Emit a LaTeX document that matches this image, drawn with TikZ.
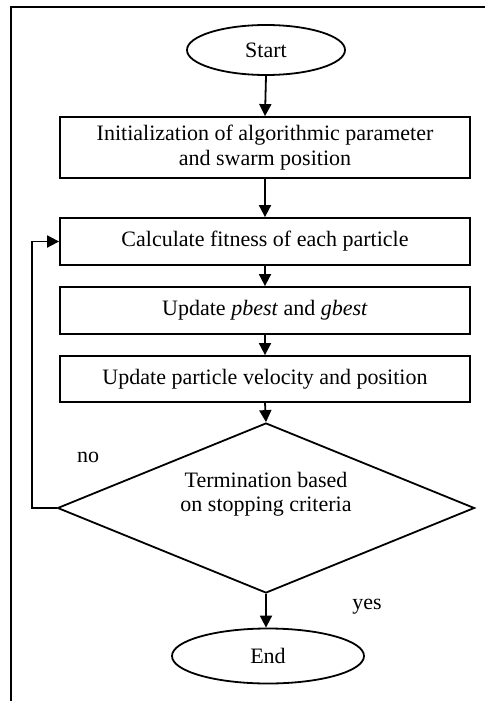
\documentclass[tikz,border=0pt]{standalone}
\usepackage{fontspec}
\setmainfont{Liberation Serif}
\usetikzlibrary{shapes.geometric,arrows.meta}
\begin{document}
\begin{tikzpicture}[x=1pt,y=-1pt,
  line width=1.8pt,
  every node/.style={font=\fontsize{22}{25}\selectfont},
  procbox/.style={draw,rectangle,minimum width=410pt,inner sep=0pt,align=center},
  termnode/.style={draw,ellipse,inner sep=0pt},
  conn/.style={-{Triangle[width=12pt,length=12pt]}},
  lbl/.style={inner sep=0pt}]
\useasboundingbox (0,0) rectangle (485,701);
\draw (11,701) -- (11,7) -- (485,7);
\node[termnode,minimum width=158pt,minimum height=50pt] (start) at (266,50) {Start};
\node[procbox,minimum height=61pt] (init) at (265,147.5) {Initialization of algorithmic parameter\\and swarm position};
\node[procbox,minimum height=47pt] (fit) at (265,241.5) {Calculate fitness of each particle};
\node[procbox,minimum height=47pt] (best) at (265,310.5) {Update \textit{pbest} and \textit{gbest}};
\node[procbox,minimum height=46pt] (vel) at (265,379) {Update particle velocity and position};
\node[draw,diamond,minimum width=417pt,minimum height=170pt,shape aspect=2.45,inner sep=0pt] (term) at (266,508) {};
\node[lbl,align=center,font=\fontsize{22}{23.5}\selectfont] (termtext) at (266,494) {Termination based\\on stopping criteria};
\node[termnode,minimum width=192pt,minimum height=55pt] (end) at (268,656) {End};
\node[lbl] (no) at (88,457) {no};
\node[lbl] (yes) at (367,607) {yes};
\coordinate (loopbot) at (32,508);
\coordinate (looptop) at (32,241.5);
\draw[conn] (start.south) -- (init.north);
\draw[conn] (init.south) -- (fit.north);
\draw[conn] (fit.south) -- (best.north);
\draw[conn] (best.south) -- (vel.north);
\draw[conn] (vel.south) -- (term.north);
\draw[conn] (term.south) -- (term.south |- end.north);
\draw[conn] (term.west) -- (loopbot) -- (looptop) -- (fit.west);
\end{tikzpicture}
\end{document}
